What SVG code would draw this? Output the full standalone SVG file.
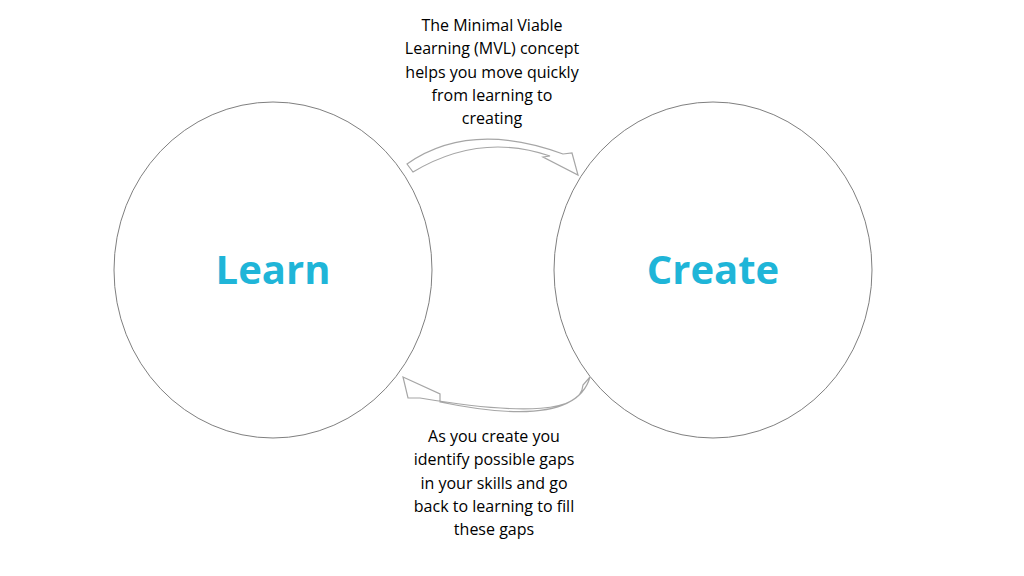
<svg xmlns="http://www.w3.org/2000/svg" width="1024" height="576" viewBox="0 0 1024 576">
<style>
.c{fill:#fff;stroke:#7f7f7f;stroke-width:1}
.a{fill:#fff;stroke:#a6a6a6;stroke-width:1.2;stroke-linejoin:miter}
.big{font-family:"Open Sans","Liberation Sans",sans-serif;font-weight:bold;font-size:40px;fill:#1fb5d8;text-anchor:middle}
.t{font-family:"Open Sans","Liberation Sans",sans-serif;font-size:16px;fill:#000;text-anchor:middle}
</style>
<rect width="1024" height="576" fill="#fff"/>
<g id="learn"><ellipse class="c" cx="273" cy="270" rx="159" ry="168"/><text class="big" x="273" y="284">Learn</text></g>
<g id="create"><ellipse class="c" cx="713" cy="270" rx="159" ry="168"/><text class="big" x="713" y="284">Create</text></g>
<g id="connectors">
<path class="a" d="M407,164 Q470,120 563,154 L572,153 L578,175 L543,157 L550,156 Q480,132 413,172 Z"/>
<path class="a" d="M590,377 Q575,430 440,402 L440,394 L403,377 L408,398 L420,398 Q580,425 583,385 Z"/>
</g>
<g id="labels">
<text class="t" x="492" y="31">The Minimal Viable</text>
<text class="t" x="492" y="54">Learning (MVL) concept</text>
<text class="t" x="492" y="78">helps you move quickly</text>
<text class="t" x="492" y="101">from learning to</text>
<text class="t" x="492" y="124">creating</text>
<text class="t" x="494" y="442">As you create you</text>
<text class="t" x="494" y="465">identify possible gaps</text>
<text class="t" x="494" y="489">in your skills and go</text>
<text class="t" x="494" y="512">back to learning to fill</text>
<text class="t" x="494" y="535">these gaps</text>
</g>
</svg>
